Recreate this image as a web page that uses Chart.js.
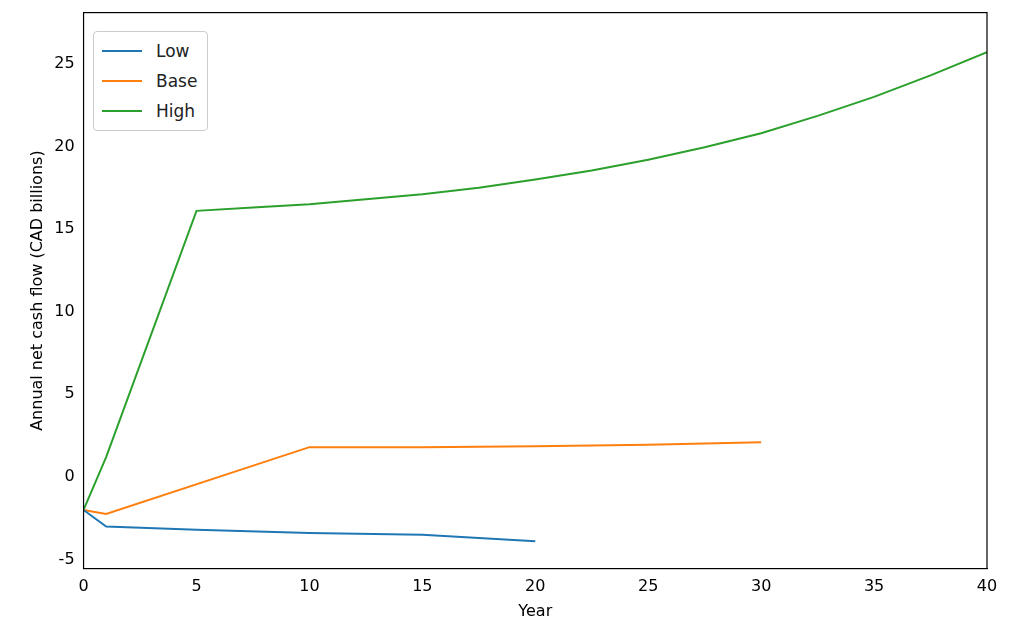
<!DOCTYPE html>
<html><head><meta charset="utf-8">
<script src="https://cdn.jsdelivr.net/npm/chart.js@4"></script>
<style>
body{margin:0;background:#fff;font-family:"DejaVu Sans",sans-serif}
#wrap{position:relative;width:1009px;height:641px}
#legend{position:absolute;left:93px;top:31px;border:1px solid #ccc;border-radius:4px;background:#fff;padding:4px 10px 4px 8px;font-size:17px;color:#222}
#legend div{display:flex;align-items:center;height:30px}
#legend span{display:inline-block;width:40px;height:2px;margin-right:14px}
</style></head><body>
<div id="wrap"><canvas id="c" width="1009" height="641"></canvas>
<div id="legend">
<div><span style="background:#1f77b4"></span>Low</div>
<div><span style="background:#ff7f0e"></span>Base</div>
<div><span style="background:#2ca02c"></span>High</div>
</div></div>
<script>
const lowYears = [0, 1, 5, 10, 15, 20];
const lowValues = [-2.0, -3.0, -3.2, -3.4, -3.5, -3.9];
const baseYears = [0, 1, 10, 15, 20, 25, 30];
const baseValues = [-2.0, -2.25, 1.8, 1.8, 1.85, 1.95, 2.1];
const highYears = [0, 1, 5, 7.5, 10, 12.5, 15, 17.5, 20, 22.5, 25, 27.5, 30, 32.5, 35, 37.5, 40];
const highValues = [-2.0, 1.2, 16.1, 16.3, 16.5, 16.8, 17.1, 17.5, 18.0, 18.55, 19.2, 19.95, 20.8, 21.85, 23.0, 24.3, 25.7];
const xTicks = [0, 5, 10, 15, 20, 25, 30, 35, 40];
const yTicks = [-5, 0, 5, 10, 15, 20, 25];

const pts = (xs, ys) => xs.map((x, i) => ({x, y: ys[i]}));
const frame = {
    id: 'frame',
    afterDraw(chart) {
        const a = chart.chartArea, ctx = chart.ctx;
        ctx.save(); ctx.strokeStyle = '#000'; ctx.lineWidth = 1.2;
        ctx.strokeRect(a.left, a.top, a.right - a.left, a.bottom - a.top);
        ctx.restore();
    }
};
const ds = (label, data, color) => ({label, data, borderColor: color, borderWidth: 2, pointRadius: 0, tension: 0});
const tickFont = {family: 'DejaVu Sans', size: 16};
new Chart(document.getElementById('c'), {
    type: 'line',
    data: {datasets: [
        ds('Low', pts(lowYears, lowValues), '#1f77b4'),
        ds('Base', pts(baseYears, baseValues), '#ff7f0e'),
        ds('High', pts(highYears, highValues), '#2ca02c')
    ]},
    options: {
        responsive: false, animation: false,
        layout: {padding: {top: 8, right: 22, left: 24, bottom: 18}},
        plugins: {legend: {display: false}, tooltip: {enabled: false}},
        scales: {
            x: {type: 'linear', min: 0, max: 40,
                afterBuildTicks: s => { s.ticks = xTicks.map(v => ({value: v})); },
                grid: {display: false, drawTicks: true, tickLength: 6, tickColor: '#000'},
                border: {color: '#000'},
                ticks: {color: '#000', font: tickFont, maxRotation: 0},
                title: {display: true, text: 'Year', color: '#000', font: tickFont, padding: 2}},
            y: {min: -5.55, max: 28.1,
                afterBuildTicks: s => { s.ticks = yTicks.map(v => ({value: v})); },
                grid: {display: false, drawTicks: true, tickLength: 6, tickColor: '#000'},
                border: {color: '#000'},
                ticks: {color: '#000', font: tickFont},
                title: {display: true, text: 'Annual net cash flow (CAD billions)', color: '#000', font: tickFont, padding: 4}}
        }
    },
    plugins: [frame]
});
</script></body></html>
